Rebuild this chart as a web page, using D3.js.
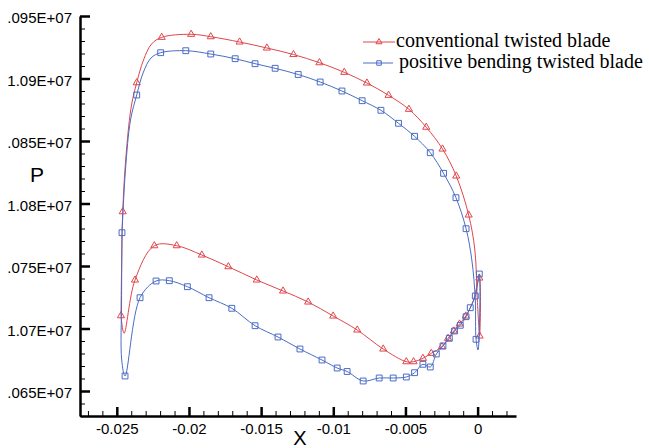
<!doctype html>
<html lang="en">
  <head>
    <meta charset="utf-8">
    <title>Blade surface pressure</title>
    <script src="https://cdn.jsdelivr.net/npm/d3@7"></script>
    <style>
      body { margin: 0; background: #fff; }
    </style>
  </head>
  <body>
    <script>
      // axis ticks
      const xTicks = [-0.025, -0.02, -0.015, -0.01, -0.005, 0];
      const xTickLabels = ["-0.025", "-0.02", "-0.015", "-0.01", "-0.005", "0"];
      const pTicks = [10950000, 10900000, 10850000, 10800000, 10750000, 10700000, 10650000];
      const pTickLabels = [".095E+07", "1.09E+07", ".085E+07", "1.08E+07", ".075E+07", "1.07E+07", ".065E+07"];

      const seriesNames = ["conventional twisted blade", "positive bending twisted blade"];

      // conventional twisted blade (pressure side LE -> TE, then suction side TE -> LE)
      const convX = [-0.02471, -0.02467, -0.02459, -0.02433, -0.02398, -0.02362, -0.02315, -0.02259, -0.02189, -0.01985,
                     -0.01849, -0.01649, -0.01460, -0.01276, -0.01096, -0.00924, -0.00767, -0.00617, -0.00476, -0.00356,
                     -0.00243, -0.00148, -0.00062, -0.00019, -0.00002, 0.00014, 0.00012, -0.00033, -0.00082, -0.00125,
                     -0.00165, -0.00205, -0.00247, -0.00321, -0.00379, -0.00444, -0.00494, -0.00654, -0.00834, -0.01001,
                     -0.01174, -0.01348, -0.01530, -0.01727, -0.01911, -0.02085, -0.02240, -0.02374, -0.02450, -0.02471];
      const convP = [10710240, 10746800, 10793440, 10842800, 10878800, 10896640, 10914800, 10927600, 10932960, 10935360,
                     10933440, 10929200, 10924400, 10919200, 10912640, 10904960, 10896400, 10886560, 10875360, 10861040,
                     10843600, 10822000, 10790800, 10762800, 10722800, 10694000, 10740400, 10721200, 10710000, 10703600,
                     10698000, 10692160, 10685440, 10680160, 10676160, 10673440, 10673440, 10683600, 10698800, 10710000,
                     10721200, 10730000, 10738800, 10749440, 10758800, 10766240, 10766240, 10738800, 10696160, 10710240];
      const convMark = [1, 0, 1, 0, 0, 1, 0, 0, 1, 1,
                        1, 1, 1, 1, 1, 1, 1, 1, 1, 1,
                        1, 1, 1, 0, 0, 1, 1, 0, 1, 1,
                        1, 1, 1, 1, 1, 1, 1, 1, 1, 1,
                        1, 1, 1, 1, 1, 1, 1, 1, 0, 0];

      // positive bending twisted blade
      const bendX = [-0.02464, -0.02440, -0.02405, -0.02362, -0.02318, -0.02263, -0.02196, -0.02022, -0.01849, -0.01680,
                     -0.01542, -0.01403, -0.01243, -0.01091, -0.00940, -0.00800, -0.00670, -0.00548, -0.00437, -0.00328,
                     -0.00236, -0.00150, -0.00080, -0.00040, -0.00016, -0.00011, 0.00003, 0.00012, -0.00016, -0.00051,
                     -0.00080, -0.00120, -0.00160, -0.00196, -0.00240, -0.00286, -0.00328, -0.00379, -0.00437, -0.00494,
                     -0.00585, -0.00682, -0.00793, -0.00904, -0.00973, -0.01078, -0.01231, -0.01383, -0.01542, -0.01703,
                     -0.01861, -0.02011, -0.02136, -0.02228, -0.02339, -0.02443, -0.02466, -0.02467, -0.02464];
      const bendP = [10776640, 10826800, 10866800, 10886800, 10904400, 10916400, 10920640, 10922240, 10919600, 10915840,
                     10911840, 10908160, 10903200, 10897200, 10890000, 10882240, 10874560, 10864160, 10853760, 10840640,
                     10824160, 10804640, 10779840, 10754800, 10722800, 10691360, 10682800, 10743600, 10726000, 10716640,
                     10709440, 10702560, 10698000, 10692160, 10686000, 10679600, 10669200, 10671360, 10664640, 10661200,
                     10660400, 10660400, 10658000, 10665600, 10668400, 10674800, 10683600, 10693200, 10702240, 10716160,
                     10724640, 10733440, 10738240, 10738000, 10724640, 10662000, 10674800, 10722800, 10776640];
      const bendMark = [1, 0, 0, 1, 0, 0, 1, 1, 1, 1,
                        1, 1, 1, 1, 1, 1, 1, 1, 1, 1,
                        1, 1, 1, 0, 0, 1, 0, 1, 1, 1,
                        1, 1, 1, 1, 1, 1, 1, 1, 1, 1,
                        1, 1, 1, 1, 1, 1, 1, 1, 1, 1,
                        1, 1, 1, 1, 1, 1, 0, 0, 0];

      const w = 649;
      const h = 448;
      const padLeft = 80, padRight = 516, padTop = 16, padBottom = 416;
      const red = "#e0464c";
      const blue = "#4a6cc4";

      const xScale = d3.scaleLinear().domain([-0.02755, 0.00266]).range([padLeft, padRight]);
      const yScale = d3.scaleLinear().domain([10630000, 10950000]).range([padBottom, padTop]);

      const svg = d3.select("body")
                    .append("svg")
                    .attr("width", w)
                    .attr("height", h);

      // minor ticks
      const xMinor = d3.range(-27, 3).map((i) => i / 1000).filter((v) => Math.round(v * 1000) % 5 !== 0);
      const pMinor = d3.range(1063, 1096).map((i) => i * 10000).filter((v) => (v / 10000) % 5 !== 0);

      svg.append("g")
         .attr("transform", "translate(0," + padBottom + ")")
         .call(d3.axisBottom(xScale).tickValues(xMinor).tickSize(-5).tickFormat(""))
         .call((g) => g.select(".domain").remove())
         .selectAll("line").attr("stroke", "#000").attr("stroke-width", 1);

      svg.append("g")
         .attr("transform", "translate(" + padLeft + ",0)")
         .call(d3.axisLeft(yScale).tickValues(pMinor).tickSize(-5).tickFormat(""))
         .call((g) => g.select(".domain").remove())
         .selectAll("line").attr("stroke", "#000").attr("stroke-width", 1);

      const xAxis = d3.axisBottom(xScale)
                      .tickValues(xTicks)
                      .tickSizeInner(-9)
                      .tickSizeOuter(0)
                      .tickPadding(7)
                      .tickFormat((d, i) => xTickLabels[i]);

      const gx = svg.append("g")
         .attr("id", "x-axis")
         .attr("transform", "translate(0," + padBottom + ")")
         .call(xAxis);
      gx.select(".domain").attr("stroke-width", 2.5);
      gx.selectAll(".tick line").attr("stroke-width", 2.5);
      gx.selectAll("text")
        .attr("font-family", "'Liberation Sans', Arial, sans-serif")
        .attr("font-size", 15)
        .attr("fill", "#000");

      const yAxis = d3.axisLeft(yScale)
                      .tickValues(pTicks)
                      .tickSizeInner(-10)
                      .tickSizeOuter(0)
                      .tickPadding(8)
                      .tickFormat((d, i) => pTickLabels[i]);

      const gy = svg.append("g")
         .attr("id", "y-axis")
         .attr("transform", "translate(" + padLeft + ",0)")
         .call(yAxis);
      gy.select(".domain").attr("stroke-width", 2.5);
      gy.selectAll(".tick line").attr("stroke-width", 2.5);
      gy.selectAll("text")
        .attr("font-family", "'Liberation Sans', Arial, sans-serif")
        .attr("font-size", 15)
        .attr("dy", "0.45em")
        .attr("fill", "#000");

      // axis titles
      svg.append("text")
         .attr("x", 37).attr("y", 182)
         .attr("text-anchor", "middle")
         .attr("font-family", "'Liberation Sans', Arial, sans-serif")
         .attr("font-size", 21)
         .text("P");
      svg.append("text")
         .attr("x", 300).attr("y", 445)
         .attr("text-anchor", "middle")
         .attr("font-family", "'Liberation Sans', Arial, sans-serif")
         .attr("font-size", 20)
         .text("X");

      const line = d3.line()
                     .x((d) => xScale(d[0]))
                     .y((d) => yScale(d[1]))
                     .curve(d3.curveCatmullRom.alpha(0.5));

      const triangle = d3.symbol().type(d3.symbolTriangle).size(22);
      const square = d3.symbol().type(d3.symbolSquare).size(34);

      const series = [
        { xs: convX, ps: convP, marks: convMark, color: red, shape: triangle },
        { xs: bendX, ps: bendP, marks: bendMark, color: blue, shape: square }
      ];

      series.forEach((s) => {
        const pts = s.xs.map((x, i) => [x, s.ps[i], s.marks[i]]);
        svg.append("path")
           .datum(pts)
           .attr("d", line)
           .attr("fill", "none")
           .attr("stroke", s.color)
           .attr("stroke-width", 1);
        svg.selectAll(null)
           .data(pts.filter((d) => d[2] === 1))
           .enter()
           .append("path")
           .attr("d", s.shape)
           .attr("transform", (d) => "translate(" + xScale(d[0]) + "," + yScale(d[1]) + ")")
           .attr("fill", "none")
           .attr("stroke", s.color)
           .attr("stroke-width", 1);
      });

      // legend
      const legendY = [42, 63];
      const legendTextX = [396, 399];
      const legendLineEnd = [395, 393];
      series.forEach((s, i) => {
        svg.append("line")
           .attr("x1", 363).attr("x2", legendLineEnd[i])
           .attr("y1", legendY[i]).attr("y2", legendY[i])
           .attr("stroke", s.color)
           .attr("stroke-width", 1);
        svg.append("path")
           .attr("d", i === 0 ? d3.symbol().type(d3.symbolTriangle).size(16)() : d3.symbol().type(d3.symbolSquare).size(20)())
           .attr("transform", "translate(379," + legendY[i] + ")")
           .attr("fill", "none")
           .attr("stroke", s.color);
        svg.append("text")
           .attr("x", legendTextX[i])
           .attr("y", legendY[i] + 5)
           .attr("font-family", "'Liberation Serif', 'Times New Roman', serif")
           .attr("font-size", 20)
           .attr("fill", "#000")
           .text(seriesNames[i]);
      });
    </script>
  </body>
</html>
